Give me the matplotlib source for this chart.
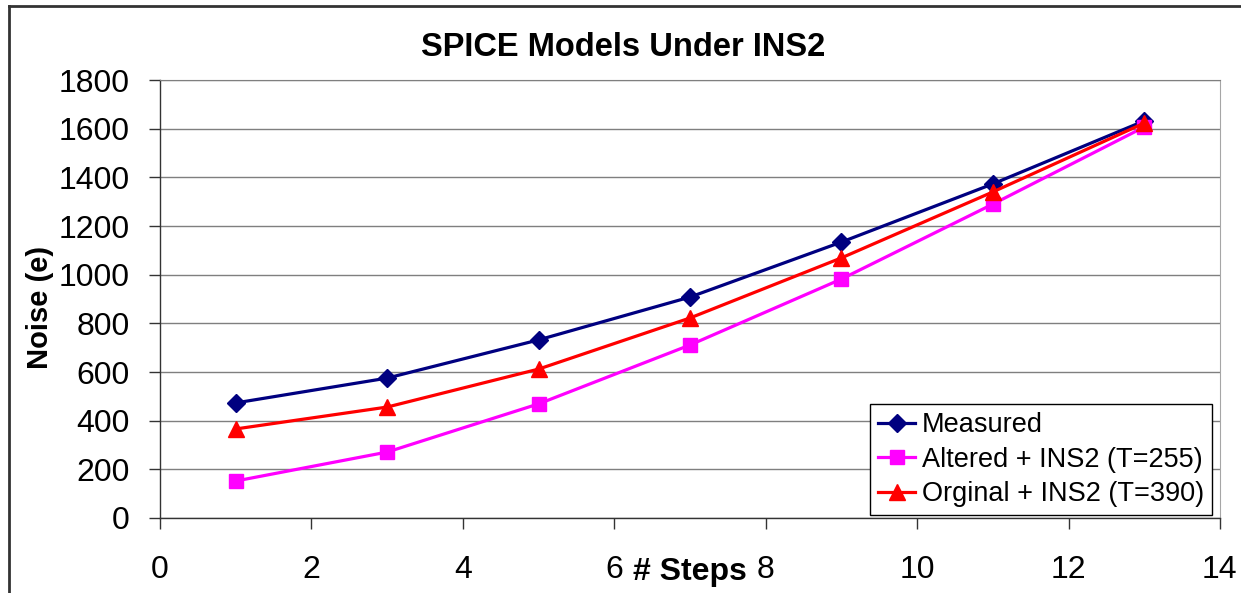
import matplotlib.pyplot as plt
from matplotlib.lines import Line2D

plt.rcParams['font.family'] = ['Liberation Sans', 'DejaVu Sans']

STEPS = [1, 3, 5, 7, 9, 11, 13]

measured = [473, 575, 732, 908, 1134, 1373, 1632]
altered = [152, 271, 469, 711, 982, 1290, 1607]
original = [366, 456, 612, 822, 1069, 1340, 1623]

fig = plt.figure(figsize=(12.41, 5.93), dpi=100)
ax = fig.add_axes([0.129, 0.1265, 0.854, 0.7385])

ax.plot(STEPS, measured, color='#000080', marker='D', markersize=9, linewidth=2.3, label='Measured')
ax.plot(STEPS, altered, color='#FF00FF', marker='s', markersize=10, linewidth=2.3, label='Altered + INS2 (T=255)')
ax.plot(STEPS, original, color='#FF0000', marker='^', markersize=11, linewidth=2.3, label='Orginal + INS2 (T=390)')

ax.set_xlim(0, 14)
ax.set_ylim(0, 1800)
ax.set_xticks(range(0, 15, 2))
ax.set_yticks(range(0, 1801, 200))
ax.tick_params(axis='both', labelsize=23, length=8, width=1, color='#333333')
ax.tick_params(axis='x', pad=19)
ax.tick_params(axis='y', pad=14)

ax.grid(axis='y', color='#7f7f7f', linewidth=1)
ax.set_axisbelow(True)
for side in ['left', 'bottom']:
    ax.spines[side].set_color('#333333')
    ax.spines[side].set_linewidth(1)
ax.spines['top'].set_color('#7f7f7f')
ax.spines['right'].set_color('#a6a6a6')

ax.set_xlabel('# Steps', fontsize=23, fontweight='bold')
ax.xaxis.set_label_coords(0.5, -0.123)
ax.xaxis.label.set_va('center')

fig.text(0.032, 0.481, 'Noise (e)', rotation=90, fontsize=21, fontweight='bold',
         ha='center', va='center')
fig.text(0.502, 1 - 47 / 593, 'SPICE Models Under INS2', fontsize=23.5, fontweight='bold',
         ha='center', va='center')

leg = ax.legend(loc='lower right', bbox_to_anchor=(0.9925, 0.007), borderaxespad=0,
                fontsize=19.5, handlelength=1.4, handletextpad=0.25, labelspacing=0.32,
                borderpad=0.28, fancybox=False, framealpha=1, edgecolor='black')
leg.get_frame().set_linewidth(1)

# outer chart border
fig.add_artist(Line2D([9 / 1241, 9 / 1241], [0, 1 - 6 / 593], color='#333333', linewidth=2))
fig.add_artist(Line2D([9 / 1241, 1], [1 - 6 / 593, 1 - 6 / 593], color='#333333', linewidth=2))

fig.savefig('out.png', dpi=100)
